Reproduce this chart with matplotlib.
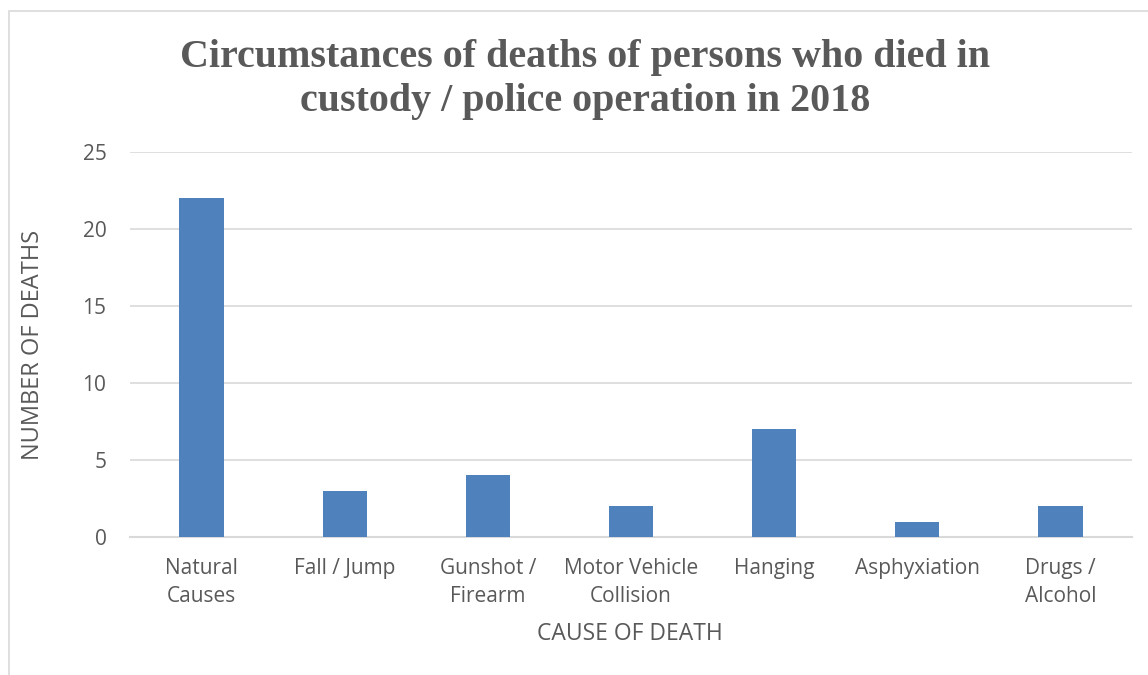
import matplotlib
matplotlib.use("Agg")
import matplotlib.pyplot as plt
from matplotlib.patches import Rectangle

categories = ["Natural\nCauses", "Fall / Jump", "Gunshot /\nFirearm", "Motor Vehicle\nCollision",
              "Hanging", "Asphyxiation", "Drugs /\nAlcohol"]
deaths = [22, 3, 4, 2, 7, 1, 2]
y_ticks = [0, 5, 10, 15, 20, 25]

W, H = 1148, 675
fig = plt.figure(figsize=(W / 100, H / 100), dpi=100)
fig.patch.set_facecolor("white")

# outer chart frame (extends beyond image at right/bottom)
fig.patches.append(Rectangle((9 / W, -0.1), 1.2, 1 - 11 / H + 0.1, transform=fig.transFigure,
                             fill=False, edgecolor="#d9d9d9", linewidth=1.2))

ax = fig.add_axes([130 / W, 1 - 537 / H, (1132 - 130) / W, (537 - 152) / H])
x = range(len(categories))
ax.bar(x, deaths, width=0.31, color="#4f81bd", zorder=3)
ax.set_xlim(-0.5, len(categories) - 0.5)
ax.set_ylim(0, 25)
ax.set_yticks(y_ticks)
ax.set_xticks(list(x))

txt = "#595959"
font = "Open Sans"
ax.set_xticklabels(categories, fontsize=15, color=txt, family=font, linespacing=1.45)
ax.set_yticklabels([str(v) for v in y_ticks], fontsize=15, color=txt, family=font)
ax.tick_params(axis="both", length=0)
ax.tick_params(axis="y", pad=17)
ax.tick_params(axis="x", pad=15)
ax.grid(axis="y", color="#d9d9d9", linewidth=1.2, zorder=0)
for s in ["top", "right", "left"]:
    ax.spines[s].set_visible(False)
ax.spines["bottom"].set_color("#d9d9d9")
ax.spines["bottom"].set_linewidth(1.5)

fig.text(33 / W, 1 - 345 / H, "NUMBER OF DEATHS", rotation=90, ha="center", va="center",
         fontsize=17, color=txt, family=font)
fig.text(630 / W, 1 - 634 / H, "CAUSE OF DEATH", ha="center", va="center",
         fontsize=16.5, color=txt, family=font)
fig.text(585 / W, 1 - 80 / H, "Circumstances of deaths of persons who died in\ncustody / police operation in 2018",
         ha="center", va="center", fontsize=28.8, fontweight="bold", color=txt,
         family="Liberation Serif", linespacing=1.25)

fig.savefig("out.png", dpi=100)
